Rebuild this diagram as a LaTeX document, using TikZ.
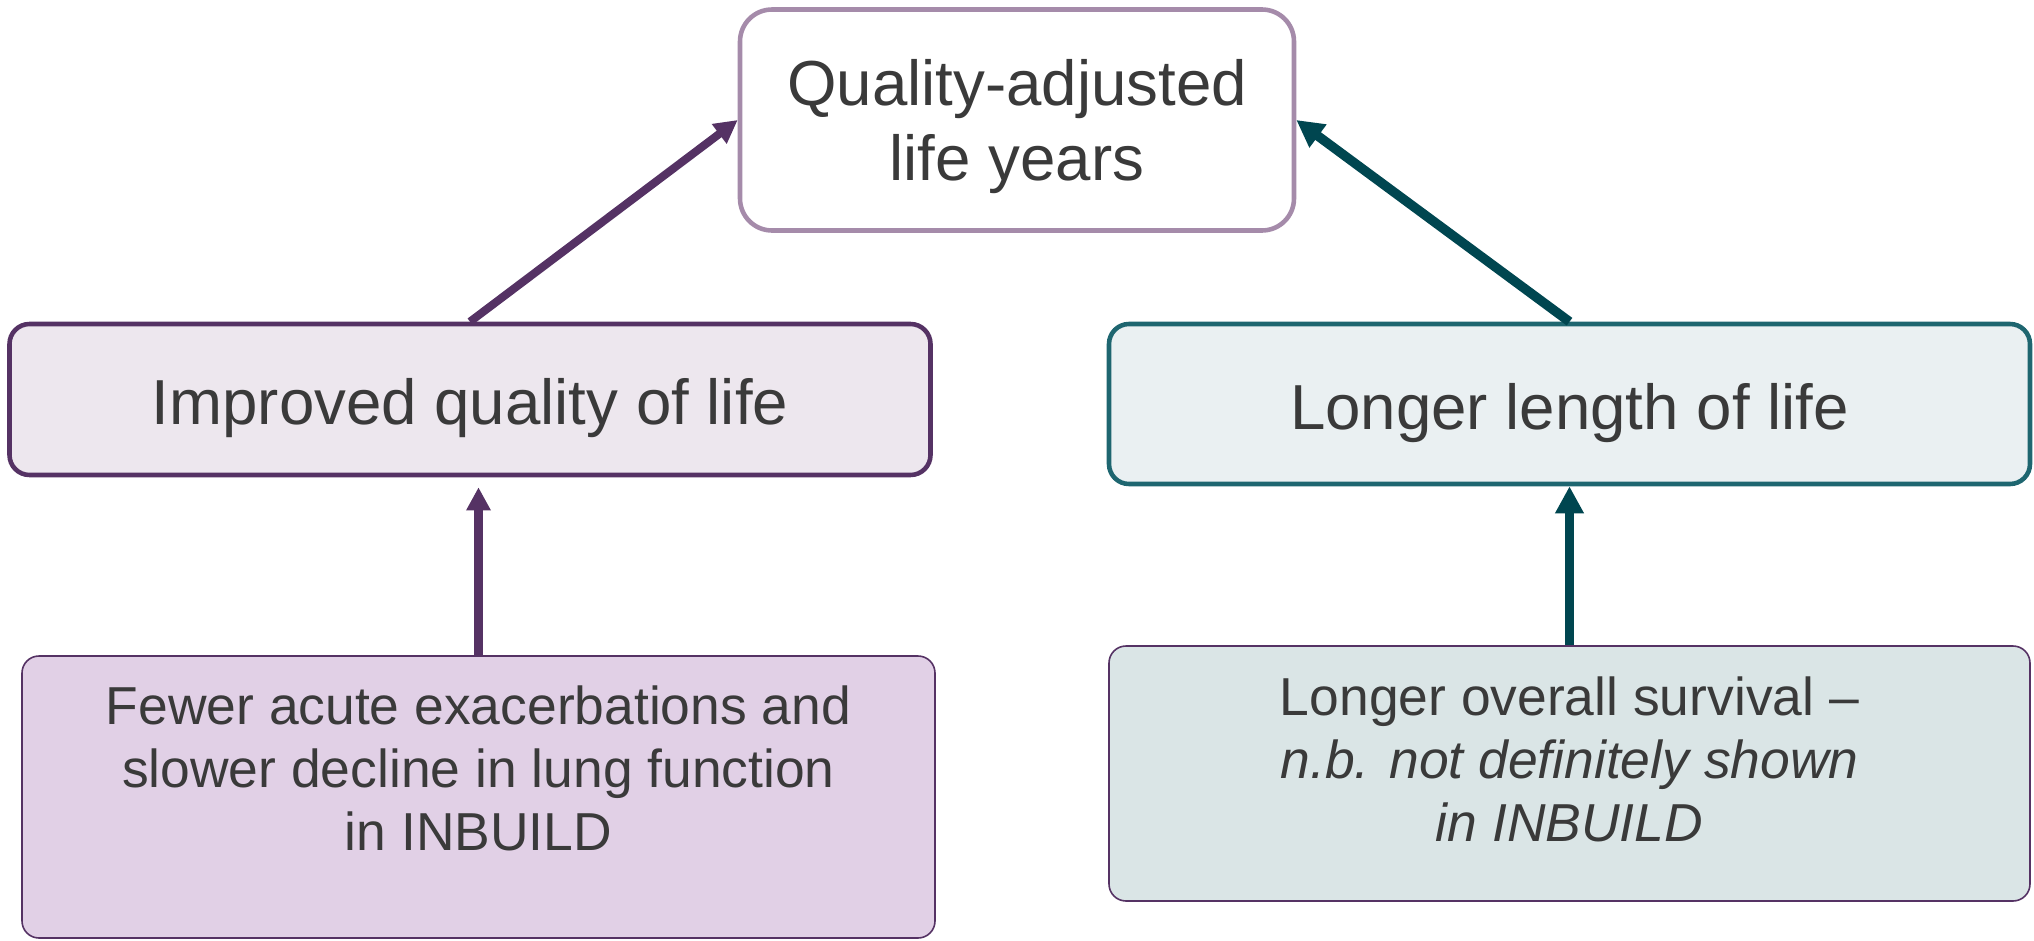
\documentclass[tikz,border=0pt]{standalone}
\usepackage{fontspec}
\setmainfont{Liberation Sans}
\usetikzlibrary{arrows.meta}

\definecolor{plumline}{HTML}{553264}
\definecolor{plumsoft}{HTML}{A58BAA}
\definecolor{plumfill}{HTML}{EDE7EE}
\definecolor{plumdeep}{HTML}{E1D0E6}
\definecolor{tealline}{HTML}{1E6670}
\definecolor{tealdark}{HTML}{004650}
\definecolor{tealfill}{HTML}{EAF0F2}
\definecolor{tealdeep}{HTML}{DAE5E6}
\definecolor{inkgrey}{HTML}{3A3A3A}

\begin{document}
\begin{tikzpicture}[> = {Triangle[length=6.6pt,width=6.6pt]}]
    \tikzset{
      box/.style={draw, text=inkgrey, align=center, inner sep=0pt},
      big/.style={font=\fontsize{18.1}{21.1}\selectfont, text depth=0pt},
      small/.style={font=\fontsize{15.2}{17.9}\selectfont, text=inkgrey, align=center},
      mid/.style={box, big, text height=14.5pt, line width=1.3pt, rounded corners=0.2cm, minimum width=9.21cm},
      low/.style={box, draw=plumline, line width=0.45pt, rounded corners=0.17cm, minimum width=9.13cm},
      plumarrow/.style={->, draw=plumline, line width=2.3pt},
      tealarrow/.style={> = {Triangle[length=7.7pt,width=7.7pt]}, ->, draw=tealdark, line width=2.7pt},
    }
    \useasboundingbox (0,0) rectangle (20.34,-9.41);

    % outcome at the top
    \node [box, big, draw=plumsoft, fill=white, line width=1.3pt, rounded corners=0.32cm,
           minimum width=5.54cm, minimum height=2.21cm] (qaly) at (10.17,-1.20) {Quality-adjusted\\life years};

    % the two routes
    \node [mid, draw=plumline, fill=plumfill, minimum height=1.51cm] (qol) at (4.70,-3.995) {Improved quality of life};
    \node [mid, draw=tealline, fill=tealfill, minimum height=1.60cm] (len) at (15.695,-4.04) {Longer length of life};

    % evidence boxes
    \node [low, fill=plumdeep, minimum height=2.82cm] (fewer) at (4.785,-7.97) {};
    \node [low, fill=tealdeep, minimum height=2.55cm, minimum width=9.21cm] (surv) at (15.695,-7.735) {};
    \node [small] (fewertxt) at ([yshift=-1.13cm]fewer.north)
      {Fewer acute exacerbations and\\slower decline in lung function\\in INBUILD};
    \node [small] (survtxt) at ([yshift=-1.14cm]surv.north)
      {Longer overall survival --\\\textit{n.b. not definitely shown}\\\textit{in INBUILD}};

    \draw [plumarrow] (qol.north) -- (qaly.west);
    \draw [tealarrow] (len.north) -- (qaly.east);
    \draw [plumarrow, shorten >=0.1cm] (fewer.north) -- (fewer.north |- qol.south);
    \draw [tealarrow] (surv.north) -- (surv.north |- len.south);

  \end{tikzpicture}
\end{document}
